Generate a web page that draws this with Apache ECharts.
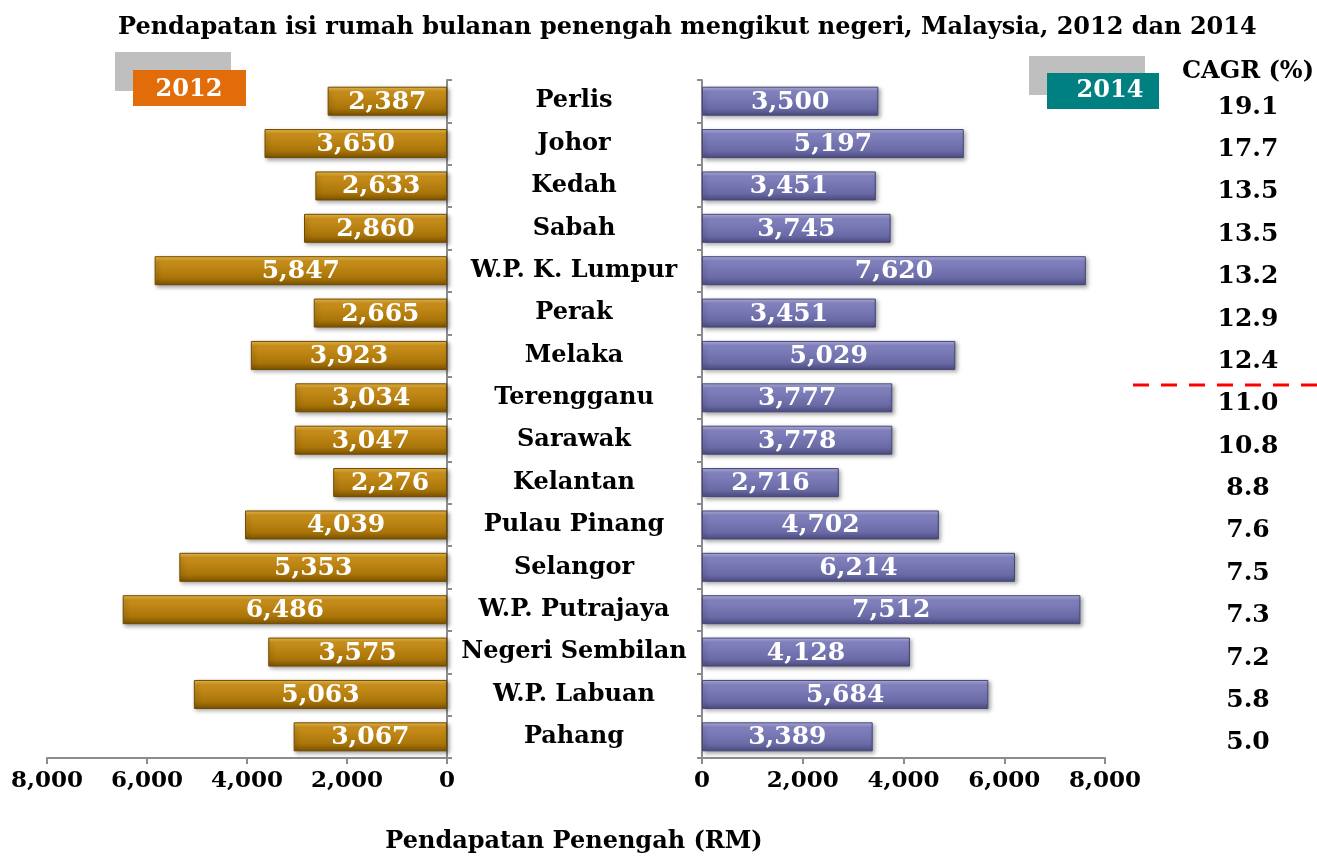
<!DOCTYPE html>
<html>
<head>
<meta charset="utf-8">
<script src="https://cdn.jsdelivr.net/npm/echarts@6/dist/echarts.min.js"></script>
<style>
  html, body { margin: 0; padding: 0; background: #fff; }
  #chart { width: 1317px; height: 857px; }
</style>
</head>
<body>
<div id="chart"></div>
<script>
const states = ['Perlis', 'Johor', 'Kedah', 'Sabah', 'W.P. K. Lumpur', 'Perak', 'Melaka', 'Terengganu',
  'Sarawak', 'Kelantan', 'Pulau Pinang', 'Selangor', 'W.P. Putrajaya', 'Negeri Sembilan', 'W.P. Labuan', 'Pahang']
const income2012 = [2387, 3650, 2633, 2860, 5847, 2665, 3923, 3034, 3047, 2276, 4039, 5353, 6486, 3575, 5063, 3067]
const income2014 = [3500, 5197, 3451, 3745, 7620, 3451, 5029, 3777, 3778, 2716, 4702, 6214, 7512, 4128, 5684, 3389]
const cagr = ['19.1', '17.7', '13.5', '13.5', '13.2', '12.9', '12.4', '11.0', '10.8', '8.8', '7.6', '7.5', '7.3', '7.2', '5.8', '5.0']

const FONT = '"DejaVu Serif", "Liberation Serif", serif'
const fmt = (v) => Number(v).toLocaleString('en-US')

const gold = new echarts.graphic.LinearGradient(0, 0, 0, 1, [
  { offset: 0, color: '#f2c04a' },
  { offset: 0.18, color: '#c98f1c' },
  { offset: 0.75, color: '#a97408' },
  { offset: 1, color: '#7a5200' },
])
const purple = new echarts.graphic.LinearGradient(0, 0, 0, 1, [
  { offset: 0, color: '#b4b4e4' },
  { offset: 0.18, color: '#8282c0' },
  { offset: 0.75, color: '#6a6aa6' },
  { offset: 1, color: '#4c4c80' },
])

const barLabel = {
  show: true,
  position: 'inside',
  color: '#fff',
  fontFamily: FONT,
  fontWeight: 'bold',
  fontSize: 25,
  offset: [0, 1],
  formatter: (p) => fmt(p.value),
}

const axisLineStyle = { color: '#8c8c8c', width: 2 }
const tickLabel = { color: '#000', fontFamily: FONT, fontWeight: 'bold', fontSize: 23, margin: 12, formatter: fmt }
const gridTop = 80
const gridHeight = 678

const option = {
  animation: false,
  backgroundColor: '#fff',
  title: {
    text: 'Pendapatan isi rumah bulanan penengah mengikut negeri, Malaysia, 2012 dan 2014',
    left: 113,
    top: 11,
    textStyle: { fontFamily: FONT, fontWeight: 'bold', fontSize: 24, color: '#000' },
  },
  grid: [
    { left: 47, width: 400, top: gridTop, height: gridHeight },
    { left: 702, width: 403, top: gridTop, height: gridHeight },
    { left: 1248, width: 10, top: gridTop + 6, height: gridHeight },
  ],
  xAxis: [
    {
      gridIndex: 0, type: 'value', inverse: true, min: 0, max: 8000, interval: 2000,
      splitLine: { show: false },
      axisLine: { show: true, lineStyle: axisLineStyle },
      axisTick: { show: true, length: 6, lineStyle: axisLineStyle },
      axisLabel: tickLabel,
    },
    {
      gridIndex: 1, type: 'value', min: 0, max: 8000, interval: 2000,
      splitLine: { show: false },
      axisLine: { show: true, lineStyle: axisLineStyle },
      axisTick: { show: true, length: 6, lineStyle: axisLineStyle },
      axisLabel: tickLabel,
    },
    { gridIndex: 2, type: 'value', show: false },
  ],
  yAxis: [
    {
      gridIndex: 0, type: 'category', data: states, inverse: true, position: 'right',
      axisLine: { show: true, lineStyle: axisLineStyle },
      axisTick: { show: true, length: 5, lineStyle: axisLineStyle },
      axisLabel: { show: false },
    },
    {
      gridIndex: 1, type: 'category', data: states, inverse: true, position: 'left',
      axisLine: { show: true, lineStyle: axisLineStyle },
      axisTick: { show: true, length: 5, lineStyle: axisLineStyle },
      axisLabel: {
        color: '#000', fontFamily: FONT, fontWeight: 'bold', fontSize: 24,
        align: 'center', margin: 128, padding: [4, 0, 0, 0],
      },
    },
    {
      gridIndex: 2, type: 'category', data: cagr, inverse: true, position: 'left',
      axisLine: { show: false }, axisTick: { show: false },
      axisLabel: { color: '#000', fontFamily: FONT, fontWeight: 'bold', fontSize: 25, align: 'center', margin: 0 },
    },
  ],
  series: [
    {
      name: '2012', type: 'bar', xAxisIndex: 0, yAxisIndex: 0, data: income2012, barWidth: 29,
      itemStyle: {
        color: gold, borderColor: '#6e4a00', borderWidth: 1,
        shadowColor: 'rgba(0,0,0,0.35)', shadowBlur: 4, shadowOffsetX: 2, shadowOffsetY: 2,
      },
      label: barLabel,
    },
    {
      name: '2014', type: 'bar', xAxisIndex: 1, yAxisIndex: 1, data: income2014, barWidth: 29,
      itemStyle: {
        color: purple, borderColor: '#464678', borderWidth: 1,
        shadowColor: 'rgba(0,0,0,0.35)', shadowBlur: 4, shadowOffsetX: 2, shadowOffsetY: 2,
      },
      label: barLabel,
    },
  ],
  graphic: [
    // legend tag 2012
    { type: 'rect', shape: { x: 115, y: 52, width: 116, height: 39 }, style: { fill: '#bfbfbf' }, z: 10 },
    { type: 'rect', shape: { x: 133, y: 70, width: 113, height: 36 }, style: { fill: '#e36c0a' }, z: 11 },
    { type: 'text', x: 189, y: 90, style: { text: '2012', fill: '#fff', font: 'bold 24px ' + FONT, align: 'center', verticalAlign: 'middle' }, z: 12 },
    // legend tag 2014
    { type: 'rect', shape: { x: 1029, y: 56, width: 116, height: 39 }, style: { fill: '#bfbfbf' }, z: 10 },
    { type: 'rect', shape: { x: 1047, y: 73, width: 112, height: 36 }, style: { fill: '#008080' }, z: 11 },
    { type: 'text', x: 1110, y: 91, style: { text: '2014', fill: '#fff', font: 'bold 24px ' + FONT, align: 'center', verticalAlign: 'middle' }, z: 12 },
    // CAGR header
    { type: 'text', x: 1248, y: 72, style: { text: 'CAGR (%)', fill: '#000', font: 'bold 24px ' + FONT, align: 'center', verticalAlign: 'middle' } },
    // red dashed separator
    { type: 'line', shape: { x1: 1133, y1: 385, x2: 1317, y2: 385 }, style: { stroke: '#ff0000', lineWidth: 3, lineDash: [16, 12] } },
    // axis name
    { type: 'text', x: 574, y: 842, style: { text: 'Pendapatan Penengah (RM)', fill: '#000', font: 'bold 24px ' + FONT, align: 'center', verticalAlign: 'middle' } },
  ],
}

const chart = echarts.init(document.getElementById('chart'), null, { renderer: 'canvas' })
chart.setOption(option)
</script>
</body>
</html>
